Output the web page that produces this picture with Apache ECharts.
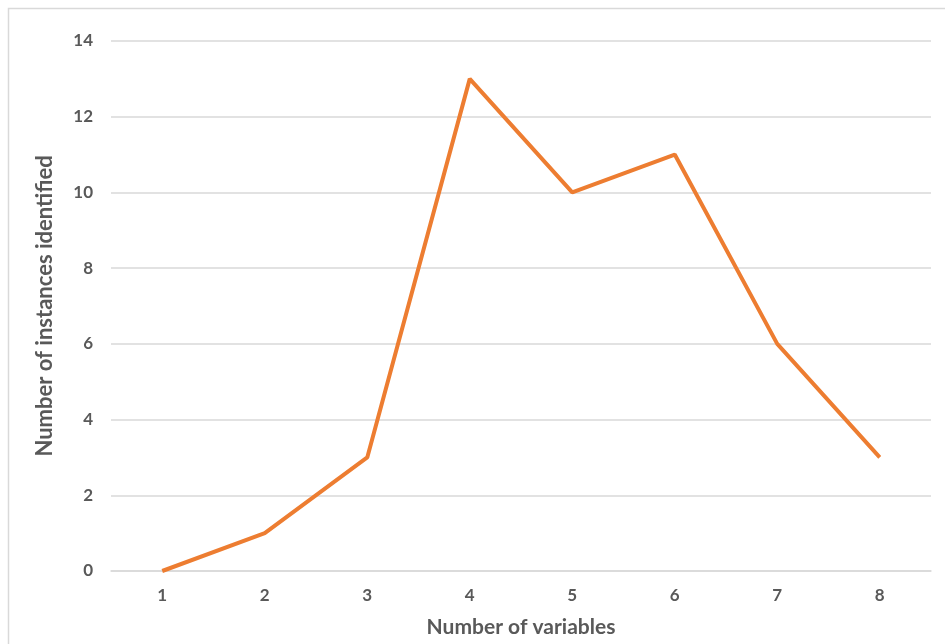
<!DOCTYPE html>
<html><head><meta charset="utf-8">
<script src="https://cdn.jsdelivr.net/npm/echarts@6/dist/echarts.min.js"></script>
<style>html,body{margin:0;padding:0;background:#fff}#c{width:945px;height:644px}</style>
</head><body><div id="c"></div>
<script>
const categories = ['1','2','3','4','5','6','7','8'];
const values = [0, 1, 3, 13, 10, 11, 6, 3];
const xTitle = 'Number of variables';
const yTitle = 'Number of instances identified';

const chart = echarts.init(document.getElementById('c'));
const fontFam = 'Lato, "Open Sans", sans-serif';
chart.setOption({
  animation: false,
  graphic: [{type:'rect', shape:{x:8.5,y:8.5,width:960,height:700}, style:{fill:'none', stroke:'#d9d9d9', lineWidth:1.5}}],
  grid: {left:111, right:14, top:41, bottom:73},
  xAxis: {
    type:'category', data:categories, boundaryGap:true,
    name:xTitle, nameLocation:'middle', nameGap:46,
    nameTextStyle:{color:'#595959', fontSize:21, fontWeight:'bold', fontFamily:fontFam},
    axisLine:{lineStyle:{color:'#d9d9d9', width:1.5}}, axisTick:{show:false},
    axisLabel:{color:'#595959', fontSize:17, fontWeight:'bold', fontFamily:fontFam, margin:16}
  },
  yAxis: {
    type:'value', min:0, max:14, interval:2,
    name:yTitle, nameLocation:'middle', nameGap:55,
    nameTextStyle:{color:'#595959', fontSize:22, fontWeight:'bold', fontFamily:fontFam},
    axisLine:{show:false}, axisTick:{show:false},
    splitLine:{lineStyle:{color:'#d9d9d9', width:1.5}},
    axisLabel:{color:'#595959', fontSize:17, fontWeight:'bold', fontFamily:fontFam, margin:18}
  },
  series: [{type:'line', data:values, showSymbol:false, lineStyle:{color:'#ED7D31', width:4}, itemStyle:{color:'#ED7D31'}}]
});
</script></body></html>
